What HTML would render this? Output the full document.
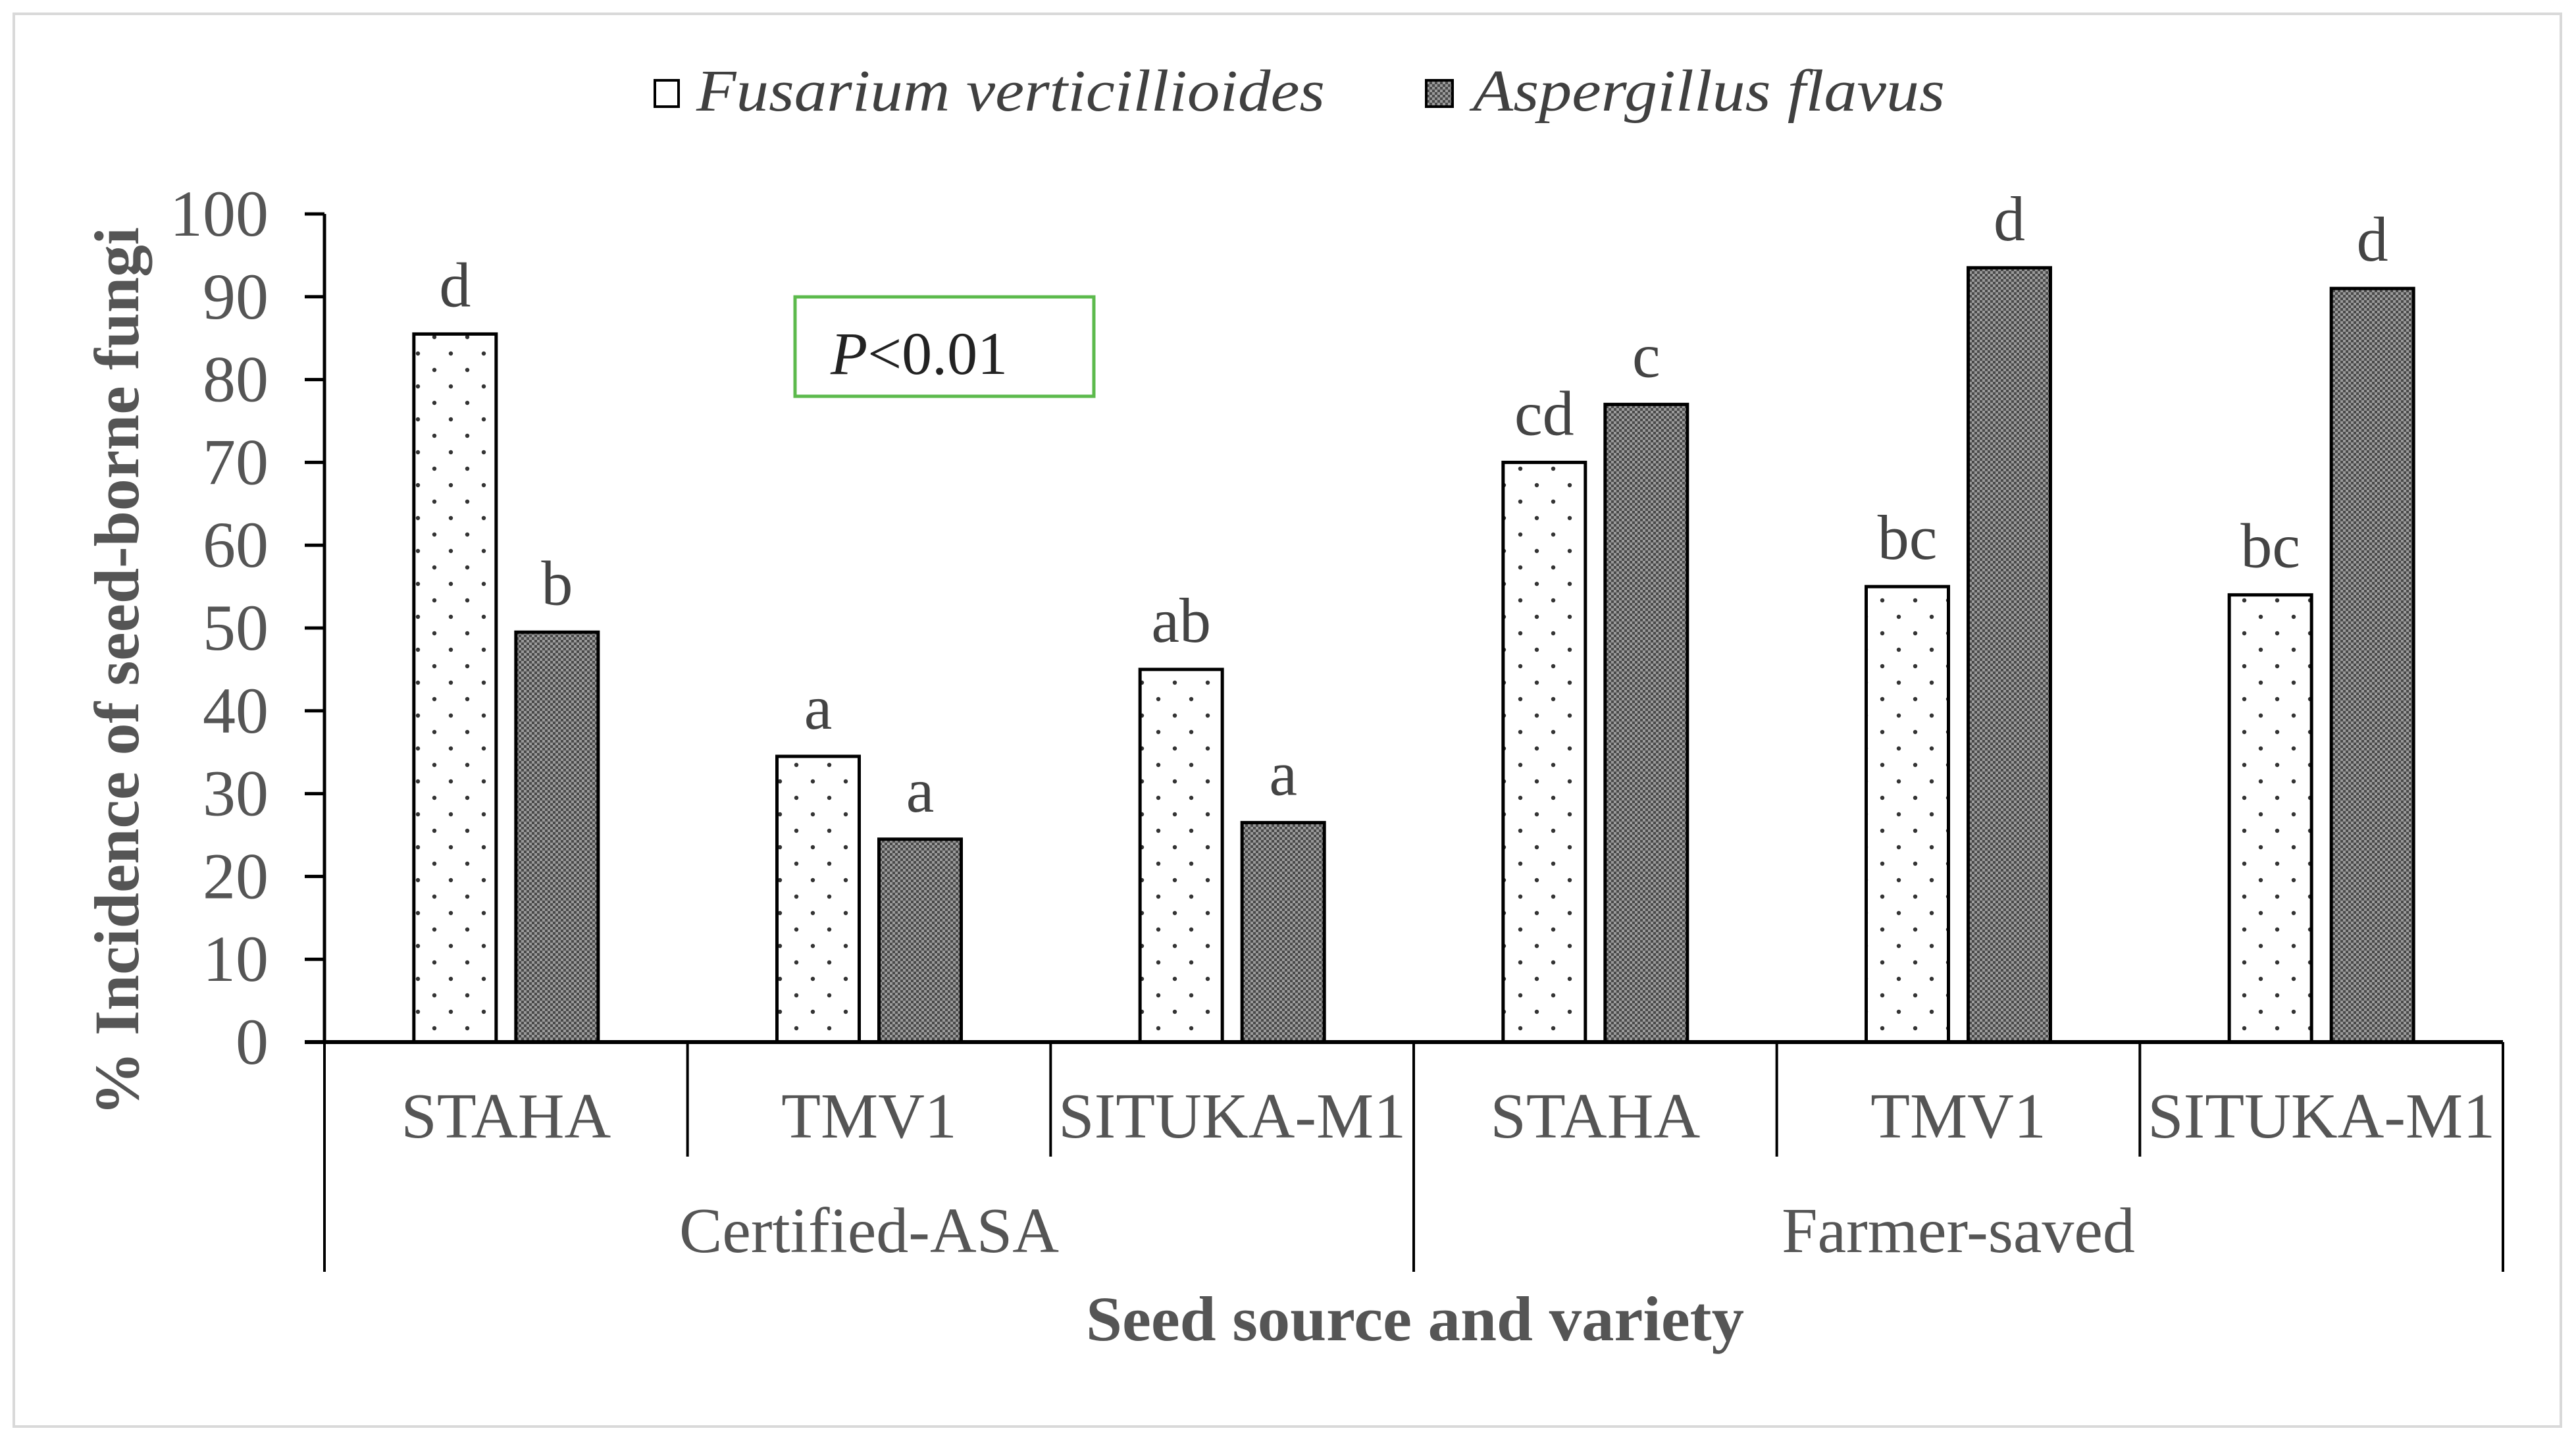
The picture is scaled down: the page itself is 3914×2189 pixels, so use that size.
<!DOCTYPE html>
<html><head><meta charset="utf-8"><style>
html,body{margin:0;padding:0;background:#fff}
svg{display:block}
text{font-family:"Liberation Serif",serif}
</style></head><body>
<svg id="chart" width="3914" height="2189" viewBox="0 0 3914 2189" xmlns="http://www.w3.org/2000/svg">
<defs>
<pattern id="dots" width="50" height="50" patternUnits="userSpaceOnUse" x="0" y="0">
<rect width="50" height="50" fill="#fff"/>
<circle cx="10" cy="12" r="3.2" fill="#333"/>
<circle cx="35" cy="37" r="3.2" fill="#333"/>
</pattern>
<pattern id="checker" width="8" height="8" patternUnits="userSpaceOnUse">
<rect width="8" height="8" fill="#9a9a9a"/>
<rect width="4" height="4" fill="#4a4a4a"/>
<rect x="4" y="4" width="4" height="4" fill="#4a4a4a"/>
</pattern>
</defs>
<rect x="21" y="21" width="3870" height="2146" fill="#fff" stroke="#d9d9d9" stroke-width="4"/>
<g id="plot"></g>
<g>
<rect x="995" y="122" width="36" height="40" fill="#fff" stroke="#000" stroke-width="4"/>
<text x="1058" y="168" font-family="Liberation Serif, serif" font-size="90" font-style="italic" fill="#404040" textLength="955" lengthAdjust="spacingAndGlyphs">Fusarium verticillioides</text>
<rect x="2167" y="122" width="40" height="40" fill="url(#checker)" stroke="#000" stroke-width="4"/>
<text x="2238" y="168" font-family="Liberation Serif, serif" font-size="90" font-style="italic" fill="#404040" textLength="717" lengthAdjust="spacingAndGlyphs">Aspergillus flavus</text>
</g>
<g>
<rect x="1208" y="451" width="454" height="151" fill="#fff" stroke="#5cba4c" stroke-width="5"/>
<text x="1262" y="568" font-size="92" fill="#222"><tspan font-style="italic">P</tspan>&lt;0.01</text>
</g>
<text transform="translate(210,1020) rotate(-90)" text-anchor="middle" font-size="96" font-weight="bold" fill="#555" textLength="1350" lengthAdjust="spacingAndGlyphs">% Incidence of seed-borne fungi</text>
<text x="2150" y="2036" text-anchor="middle" font-size="96" font-weight="bold" fill="#555" textLength="1000" lengthAdjust="spacingAndGlyphs">Seed source and variety</text>
</svg>
<script>
const varieties = ["STAHA","TMV1","SITUKA-M1","STAHA","TMV1","SITUKA-M1"];
const groups = ["Certified-ASA","Farmer-saved"];
const fusarium = [85.5, 34.5, 45, 70, 55, 54];
const aspergillus = [49.5, 24.5, 26.5, 77, 93.5, 91];
const fusLetters = ["d","a","ab","cd","bc","bc"];
const aspLetters = ["b","a","a","c","d","d"];
const yTicks = [0,10,20,30,40,50,60,70,80,90,100];

const NS = "http://www.w3.org/2000/svg";
const plot = document.getElementById("plot");
const X0 = 493, X1 = 3803, Y0 = 1583, Y100 = 325;
const catW = (X1 - X0) / varieties.length;
const barW = 125, gap = 30;
function y(v){ return Y0 - (v/100)*(Y0 - Y100); }
function catX(i){ return X0 + i*catW; }
function mk(tag, attrs){ const e = document.createElementNS(NS, tag); for (const k in attrs) e.setAttribute(k, attrs[k]); plot.appendChild(e); return e; }

let ax = mk("line", {x1:X0, y1:Y100, x2:X0, y2:Y0, stroke:"#000", "stroke-width":5});


yTicks.forEach(t => {
  const tk = mk("line", {x1:X0-30, y1:y(t), x2:X0, y2:y(t), stroke:"#000", "stroke-width":5});
  
  
  const lb = mk("text", {x:408, y:y(t)+33, "text-anchor":"end", "font-size":100, fill:"#555"});
  
  
  lb.textContent = t;
});

varieties.forEach((v, i) => {
  const start = catX(i) + (catW - (2*barW + gap))/2;
  const fx = start, axp = start + barW + gap;
  const fb = mk("rect", {x:fx, y:y(fusarium[i]), width:barW, height:Y0 - y(fusarium[i]), fill:"url(#dots)", stroke:"#000", "stroke-width":5});
  
  
  const ab = mk("rect", {x:axp, y:y(aspergillus[i]), width:barW, height:Y0 - y(aspergillus[i]), fill:"url(#checker)", stroke:"#000", "stroke-width":5});
  
  
  const fl = mk("text", {x:fx + barW/2, y:y(fusarium[i]) - 42, "text-anchor":"middle", "font-size":96, fill:"#444"});
  
  
  fl.textContent = fusLetters[i];
  const al = mk("text", {x:axp + barW/2, y:y(aspergillus[i]) - 42, "text-anchor":"middle", "font-size":96, fill:"#444"});
  
  
  al.textContent = aspLetters[i];
  const cl = mk("text", {x:catX(i) + catW/2, y:1728, "text-anchor":"middle", "font-size":98, fill:"#555"});
  
  
  cl.textContent = v;
});

let xa = mk("line", {x1:X0-30, y1:Y0, x2:X1, y2:Y0, stroke:"#000", "stroke-width":6});


for (let i = 0; i <= varieties.length; i++) {
  const outer = (i % 3 === 0);
  const s = mk("line", {x1:catX(i), y1:Y0, x2:catX(i), y2: outer ? 1932 : 1757, stroke:"#000", "stroke-width":4});
  
  
}
groups.forEach((g, gi) => {
  const gl = mk("text", {x:catX(gi*3) + catW*1.5, y:1902, "text-anchor":"middle", "font-size":98, fill:"#555"});
  
  
  gl.textContent = g;
});
</script>
</body></html>
